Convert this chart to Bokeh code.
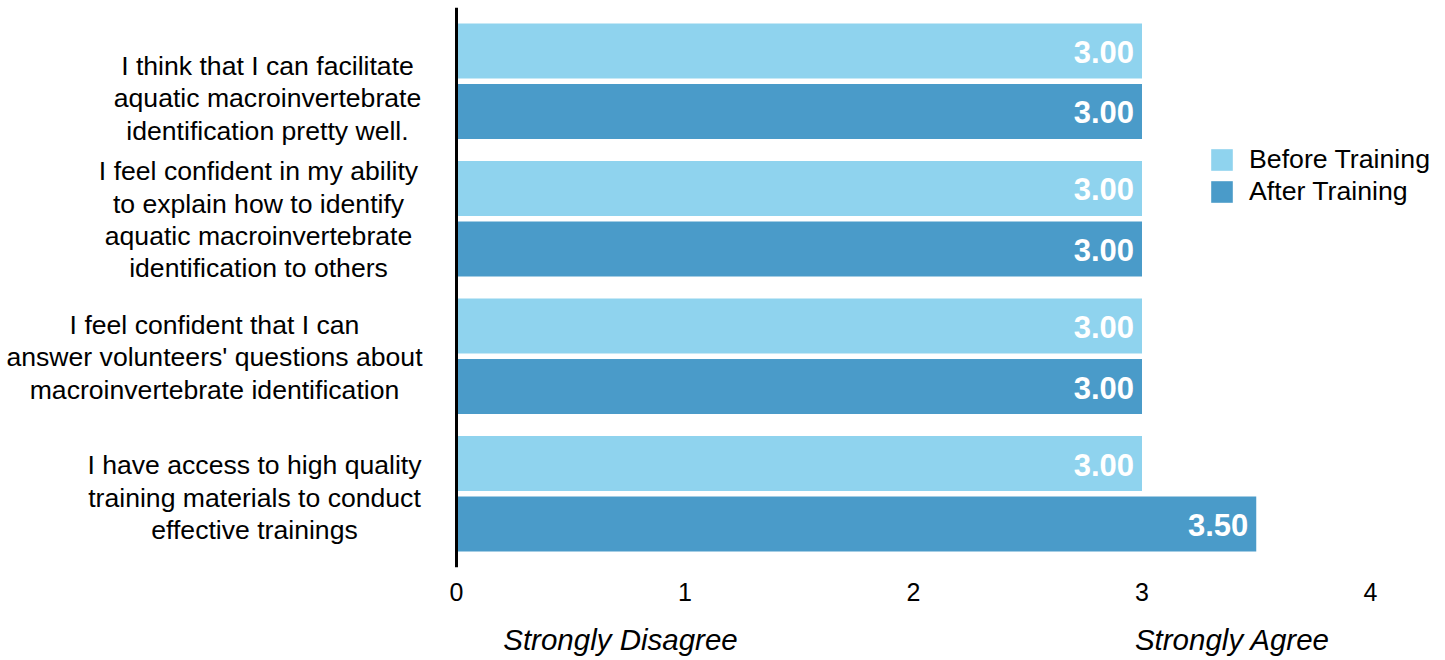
from bokeh.plotting import figure
from bokeh.models import (Range1d, Span, Legend, LegendItem, LinearAxis,
                          FixedTicker, ColumnDataSource)
from bokeh.core.properties import value
from bokeh.embed import file_html
from bokeh.resources import INLINE
import numpy as np

# ---- data ----
questions = [
    "I think that I can facilitate\naquatic macroinvertebrate\nidentification pretty well.",
    "I feel confident in my ability\nto explain how to identify\naquatic macroinvertebrate\nidentification to others",
    "I feel confident that I can\nanswer volunteers' questions about\nmacroinvertebrate identification",
    "I have access to high quality\ntraining materials to conduct\neffective trainings",
]
before_training = [3.00, 3.00, 3.00, 3.00]
after_training = [3.00, 3.00, 3.00, 3.50]
series_names = ["Before Training", "After Training"]
x_ticks = [0, 1, 2, 3, 4]
scale_labels = ["Strongly Disagree", "Strongly Agree"]

# ---- layout constants (pixels / styles) ----
W, H = 1445, 660
X0_PX, UNIT_PX = 456, 228.5          # pixel of x=0 and pixels per unit
GROUP_PX = 137.5                      # pixels per question group
FONT = "Liberation Sans"
C_BEFORE = "#8fd3ee"
C_AFTER = "#4a9bc9"
label_center_px = [267, 258, 214, 254]
label_dy_px = [17, 1, 1, 4]
scale_label_px = [620, 1232]

def px_to_x(px):
    return (px - X0_PX) / UNIT_PX

idx = np.arange(len(questions))
dodge = 30.25 / GROUP_PX
bar_h = 55 / GROUP_PX

p = figure(width=W, height=H,
           x_range=Range1d(px_to_x(0), px_to_x(W)),
           y_range=Range1d(3.536, -0.536),
           output_backend="svg", toolbar_location=None,
           y_axis_location=None,
           min_border_left=0, min_border_right=0,
           min_border_top=7, min_border_bottom=93)
p.outline_line_color = None
p.grid.visible = False
p.background_fill_color = "white"
p.border_fill_color = "white"

src_b = ColumnDataSource(dict(y=idx - dodge, v=before_training,
                              t=[f"{v:.2f}" for v in before_training]))
src_a = ColumnDataSource(dict(y=idx + dodge, v=after_training,
                              t=[f"{v:.2f}" for v in after_training]))

rb = p.hbar(y="y", left=0, right="v", height=bar_h, source=src_b,
            fill_color=C_BEFORE, line_color=None)
ra = p.hbar(y="y", left=0, right="v", height=bar_h, source=src_a,
            fill_color=C_AFTER, line_color=None)

for src in (src_b, src_a):
    p.text(x="v", y="y", text="t", source=src, x_offset=-8, y_offset=1,
           text_align="right", text_baseline="middle",
           text_color="white", text_font=value(FONT),
           text_font_size="31px", text_font_style="bold")

# left category labels
lab_src = ColumnDataSource(dict(
    x=[px_to_x(c) for c in label_center_px],
    y=[i + d / GROUP_PX for i, d in zip(idx, label_dy_px)],
    t=questions))
p.text(x="x", y="y", text="t", source=lab_src,
       text_align="center", text_baseline="middle",
       text_line_height=1.08, text_color="black",
       text_font=value(FONT), text_font_size="26.6px")

# vertical axis line at 0
p.add_layout(Span(location=0, dimension="height",
                  line_color="black", line_width=3))

# x axis
ax = p.xaxis[0]
ax.ticker = FixedTicker(ticks=x_ticks)
ax.axis_line_color = None
ax.major_tick_line_color = None
ax.minor_tick_line_color = None
ax.major_tick_out = 0
ax.major_tick_in = 0
ax.major_label_standoff = 15
ax.major_label_text_font = FONT
ax.major_label_text_font_size = "25px"
ax.major_label_text_color = "black"

# scale anchor labels
anchor_pos = [px_to_x(v) for v in scale_label_px]
ax2 = LinearAxis(ticker=FixedTicker(ticks=anchor_pos),
                 major_label_overrides={k: s for k, s in zip(anchor_pos, scale_labels)})
ax2.axis_line_color = None
ax2.major_tick_line_color = None
ax2.minor_tick_line_color = None
ax2.major_tick_out = 0
ax2.major_tick_in = 0
ax2.major_label_standoff = 19
ax2.major_label_text_font = FONT
ax2.major_label_text_font_size = "29.5px"
ax2.major_label_text_font_style = "italic"
ax2.major_label_text_color = "black"
p.add_layout(ax2, "below")

legend = Legend(items=[LegendItem(label=series_names[0], renderers=[rb]),
                       LegendItem(label=series_names[1], renderers=[ra])],
                location=(1208, 360), orientation="vertical",
                glyph_width=27, glyph_height=27, label_height=27,
                label_standoff=14, spacing=1, padding=0, margin=0,
                border_line_color=None, background_fill_alpha=0,
                label_text_font=FONT, label_text_font_size="26.7px",
                label_text_color="black")
p.add_layout(legend, "center")

open("out.html", "w").write(file_html(p, INLINE))
